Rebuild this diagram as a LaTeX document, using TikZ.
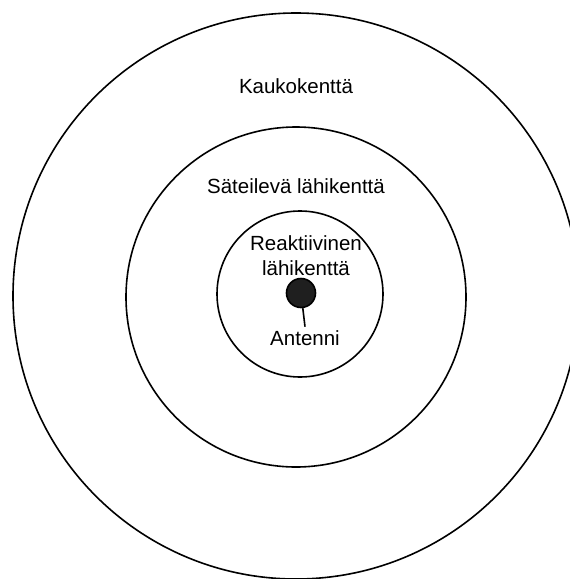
\documentclass[tikz,border=0pt]{standalone}
\usepackage{fontspec}
\setmainfont{Liberation Sans}
\usetikzlibrary{positioning}

\tikzset{
  zone/.style={line width=1.6pt},
  zonelabel/.style={font=\fontsize{20.5}{25}\selectfont, inner sep=0pt, align=center},
}

\begin{document}
\begin{tikzpicture}[x=1pt, y=-1pt, line width=1.6pt]

	\useasboundingbox (0,0) rectangle (570,579);
	\clip (0,0) rectangle (570,579);

	% field regions
	\draw[zone] (296,296) circle (283);
	\draw[zone] (296,297) circle (170);
	\draw[zone] (300,294) circle (83);

	% region names
	\node[zonelabel] (far) at (296,86) {Kaukokenttä};
	\node[zonelabel] (radnear) at (296,186) {Säteilevä lähikenttä};
	\node[zonelabel] (reactnear) at (306,255.5) {Reaktiivinen\\lähikenttä};

	% antenna
	\node[circle, draw, fill=black!88, minimum size=29pt, inner sep=0pt,
	      line width=1.6pt] (dot) at (301,293) {};
	\node[zonelabel, inner sep=3pt] (ant) at (305,338) {Antenni};
	\draw[line width=1.6pt] (dot) -- (ant.north);

\end{tikzpicture}
\end{document}
